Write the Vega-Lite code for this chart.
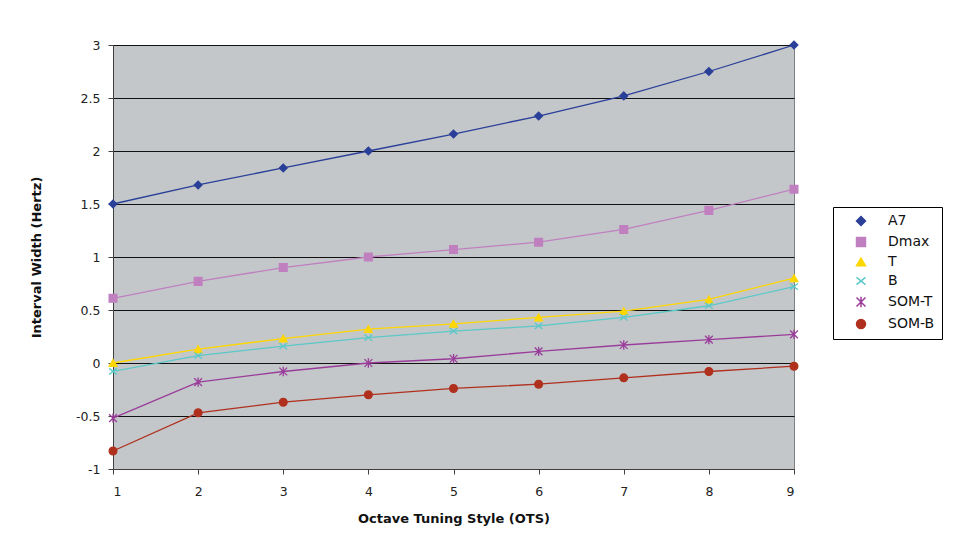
{
  "$schema": "https://vega.github.io/schema/vega-lite/v6.json",
  "width": 681,
  "height": 424,
  "autosize": {"type": "none"},
  "padding": {"left": 113, "top": 45, "right": 169, "bottom": 67},
  "background": "white",
  "config": {
    "view": {"fill": "#C3C7CA", "stroke": "#808080", "strokeWidth": 1},
    "font": "DejaVu Sans"
  },
  "data": {
    "values": [
      {"ots": 1, "series": "A7", "v": 1.5},
      {"ots": 2, "series": "A7", "v": 1.68},
      {"ots": 3, "series": "A7", "v": 1.84},
      {"ots": 4, "series": "A7", "v": 2.0},
      {"ots": 5, "series": "A7", "v": 2.16},
      {"ots": 6, "series": "A7", "v": 2.33},
      {"ots": 7, "series": "A7", "v": 2.52},
      {"ots": 8, "series": "A7", "v": 2.75},
      {"ots": 9, "series": "A7", "v": 3.0},
      {"ots": 1, "series": "Dmax", "v": 0.61},
      {"ots": 2, "series": "Dmax", "v": 0.77},
      {"ots": 3, "series": "Dmax", "v": 0.9},
      {"ots": 4, "series": "Dmax", "v": 1.0},
      {"ots": 5, "series": "Dmax", "v": 1.07},
      {"ots": 6, "series": "Dmax", "v": 1.14},
      {"ots": 7, "series": "Dmax", "v": 1.26},
      {"ots": 8, "series": "Dmax", "v": 1.44},
      {"ots": 9, "series": "Dmax", "v": 1.64},
      {"ots": 1, "series": "T", "v": 0.0},
      {"ots": 2, "series": "T", "v": 0.13},
      {"ots": 3, "series": "T", "v": 0.23},
      {"ots": 4, "series": "T", "v": 0.32},
      {"ots": 5, "series": "T", "v": 0.37},
      {"ots": 6, "series": "T", "v": 0.43},
      {"ots": 7, "series": "T", "v": 0.49},
      {"ots": 8, "series": "T", "v": 0.6},
      {"ots": 9, "series": "T", "v": 0.8},
      {"ots": 1, "series": "B", "v": -0.08},
      {"ots": 2, "series": "B", "v": 0.07},
      {"ots": 3, "series": "B", "v": 0.16},
      {"ots": 4, "series": "B", "v": 0.24},
      {"ots": 5, "series": "B", "v": 0.3},
      {"ots": 6, "series": "B", "v": 0.35},
      {"ots": 7, "series": "B", "v": 0.43},
      {"ots": 8, "series": "B", "v": 0.54},
      {"ots": 9, "series": "B", "v": 0.72},
      {"ots": 1, "series": "SOM-T", "v": -0.52},
      {"ots": 2, "series": "SOM-T", "v": -0.18},
      {"ots": 3, "series": "SOM-T", "v": -0.08},
      {"ots": 4, "series": "SOM-T", "v": 0.0},
      {"ots": 5, "series": "SOM-T", "v": 0.04},
      {"ots": 6, "series": "SOM-T", "v": 0.11},
      {"ots": 7, "series": "SOM-T", "v": 0.17},
      {"ots": 8, "series": "SOM-T", "v": 0.22},
      {"ots": 9, "series": "SOM-T", "v": 0.27},
      {"ots": 1, "series": "SOM-B", "v": -0.83},
      {"ots": 2, "series": "SOM-B", "v": -0.47},
      {"ots": 3, "series": "SOM-B", "v": -0.37},
      {"ots": 4, "series": "SOM-B", "v": -0.3},
      {"ots": 5, "series": "SOM-B", "v": -0.24},
      {"ots": 6, "series": "SOM-B", "v": -0.2},
      {"ots": 7, "series": "SOM-B", "v": -0.14},
      {"ots": 8, "series": "SOM-B", "v": -0.08},
      {"ots": 9, "series": "SOM-B", "v": -0.03}
    ]
  },
  "encoding": {
    "x": {
      "field": "ots", "type": "quantitative",
      "scale": {"domain": [1, 9], "nice": false, "zero": false},
      "axis": {
        "title": "Octave Tuning Style (OTS)", "values": [1,2,3,4,5,6,7,8,9],
        "grid": false, "domainColor": "#404040", "tickColor": "#404040", "tickSize": 5,
        "labelFont": "DejaVu Sans", "labelFontSize": 12.5, "labelColor": "#222", "labelPadding": 11,
        "titleFont": "DejaVu Sans", "titleFontSize": 13, "titleFontWeight": "bold", "titleColor": "#111", "titlePadding": 15
      }
    },
    "y": {
      "field": "v", "type": "quantitative",
      "scale": {"domain": [-1, 3], "nice": false},
      "axis": {
        "title": "Interval Width (Hertz)", "values": [-1,-0.5,0,0.5,1,1.5,2,2.5,3],
        "labelExpr": "toString(datum.value)",
        "grid": true, "gridColor": "#111", "gridWidth": 1.2, "gridOpacity": 1,
        "domainColor": "#404040", "tickColor": "#404040", "tickSize": 5,
        "labelFont": "DejaVu Sans", "labelFontSize": 12.5, "labelColor": "#222", "labelPadding": 8,
        "titleFont": "DejaVu Sans", "titleFontSize": 13, "titleFontWeight": "bold", "titleColor": "#111", "titlePadding": 32
      }
    }
  },
  "layer": [
    {
      "mark": {"type": "line", "strokeWidth": 1.3},
      "encoding": {
        "color": {"field": "series", "type": "nominal",
          "scale": {"domain": ["A7","Dmax","T","B","SOM-T","SOM-B"],
                    "range": ["#2A3F98","#C080C0","#FFD700","#5CC8C8","#9A3C9A","#B0301E"]},
          "legend": {"title": null, "orient": "none", "legendX": 720, "legendY": 162,
                     "strokeColor": "#000", "fillColor": "white", "padding": 7,
                     "labelFont": "DejaVu Sans", "labelFontSize": 14, "labelColor": "#111",
                     "rowPadding": 5, "symbolSize": 80, "symbolOffset": 14, "labelOffset": 20}}
      }
    },
    {
      "mark": {"type": "point", "filled": true, "opacity": 1, "size": 60, "strokeWidth": 1.3},
      "encoding": {
        "fill": {"field": "series", "type": "nominal",
          "scale": {"domain": ["A7","Dmax","T","B","SOM-T","SOM-B"],
                    "range": ["#2A3F98","#C080C0","#FFD700","#5CC8C8","#9A3C9A","#B0301E"]},
          "legend": {"title": null, "orient": "none", "legendX": 720, "legendY": 162}},
        "stroke": {"field": "series", "type": "nominal",
          "scale": {"domain": ["A7","Dmax","T","B","SOM-T","SOM-B"],
                    "range": ["#2A3F98","#C080C0","#FFD700","#5CC8C8","#9A3C9A","#B0301E"]},
          "legend": {"title": null, "orient": "none", "legendX": 720, "legendY": 162}},
        "shape": {"field": "series", "type": "nominal",
          "scale": {"domain": ["A7","Dmax","T","B","SOM-T","SOM-B"],
                    "range": ["diamond","square","triangle-up","M-1,-0.8L1,0.8M-1,0.8L1,-0.8","M-1,-1L1,1M-1,1L1,-1M0,-1.2L0,1.2","circle"]},
          "legend": {"title": null, "orient": "none", "legendX": 720, "legendY": 162}}
      }
    }
  ]
}
